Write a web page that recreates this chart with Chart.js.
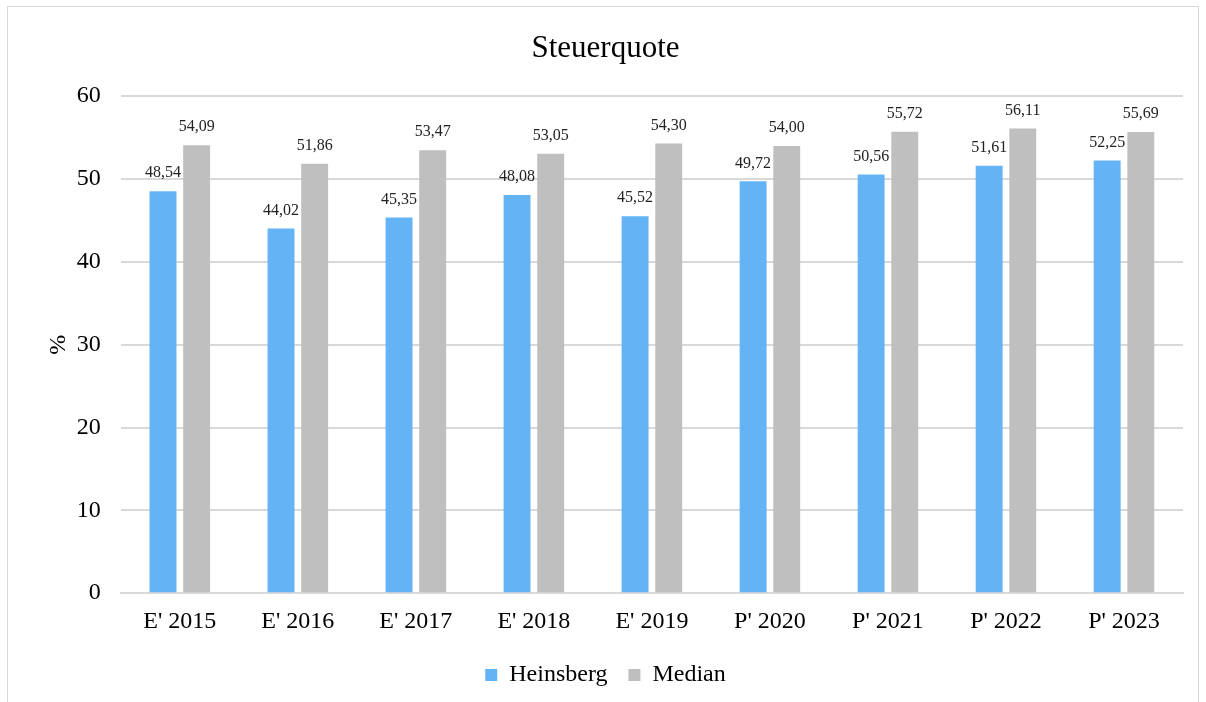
<!DOCTYPE html>
<html>
<head>
<meta charset="utf-8">
<script src="https://cdn.jsdelivr.net/npm/chart.js@4.4.0/dist/chart.umd.min.js"></script>
<style>
  body { margin: 0; background: #fff; }
  #wrap { position: absolute; left: 7px; top: 6px; width: 1192px; height: 700px; border: 1px solid #d9d9d9; box-sizing: border-box; }
  canvas { display: block; }
</style>
</head>
<body>
<div id="wrap"><canvas id="steuer-chart"></canvas></div>
<script>
const years = ["E' 2015", "E' 2016", "E' 2017", "E' 2018", "E' 2019", "P' 2020", "P' 2021", "P' 2022", "P' 2023"];
const heinsberg = [48.54, 44.02, 45.35, 48.08, 45.52, 49.72, 50.56, 51.61, 52.25];
const median = [54.09, 51.86, 53.47, 53.05, 54.30, 54.00, 55.72, 56.11, 55.69];

const serif = '"Liberation Serif", "Times New Roman", serif';

// Write the value above each bar, German decimal comma
const barValues = {
    id: 'barValues',
    afterDatasetsDraw(chart) {
        const ctx = chart.ctx;
        ctx.save();
        ctx.font = '16px ' + serif;
        ctx.fillStyle = '#222';
        ctx.textAlign = 'center';
        ctx.textBaseline = 'bottom';
        chart.data.datasets.forEach((ds, i) => {
            chart.getDatasetMeta(i).data.forEach((bar, j) => {
                const txt = ds.data[j].toFixed(2).replace('.', ',');
                ctx.fillText(txt, bar.x, bar.y - 10);
            });
        });
        ctx.restore();
    }
};

const ctx = document.getElementById('steuer-chart').getContext('2d');
new Chart(ctx, {
    type: 'bar',
    data: {
        labels: years,
        datasets: [
            { label: 'Heinsberg', data: heinsberg, backgroundColor: '#63b3f5' },
            { label: 'Median', data: median, backgroundColor: '#bfbfbf' }
        ]
    },
    options: {
        responsive: true,
        maintainAspectRatio: false,
        animation: false,
        categoryPercentage: 0.57,
        barPercentage: 0.8,
        layout: { padding: { left: 20, right: 15, top: 15, bottom: 8 } },
        scales: {
            x: {
                grid: { display: false },
                border: { color: '#d9d9d9', width: 2 },
                ticks: { color: '#000', font: { family: serif, size: 24 }, padding: 6 }
            },
            y: {
                min: 0,
                max: 60,
                ticks: { stepSize: 10, color: '#000', font: { family: serif, size: 24 }, padding: 20 },
                grid: { color: '#d9d9d9', lineWidth: 2, drawTicks: false },
                border: { display: false },
                title: { display: true, text: '%', color: '#000', font: { family: serif, size: 24 }, padding: { top: 16, bottom: -16 } }
            }
        },
        plugins: {
            title: {
                display: true,
                text: 'Steuerquote',
                color: '#000',
                font: { family: serif, size: 31, weight: 'normal' },
                padding: { top: 8, bottom: 29 }
            },
            legend: {
                position: 'bottom',
                labels: {
                    color: '#000',
                    boxWidth: 12,
                    boxHeight: 12,
                    padding: 21,
                    font: { family: serif, size: 24 }
                }
            },
            tooltip: { enabled: false }
        }
    },
    plugins: [barValues]
});
</script>
</body>
</html>
